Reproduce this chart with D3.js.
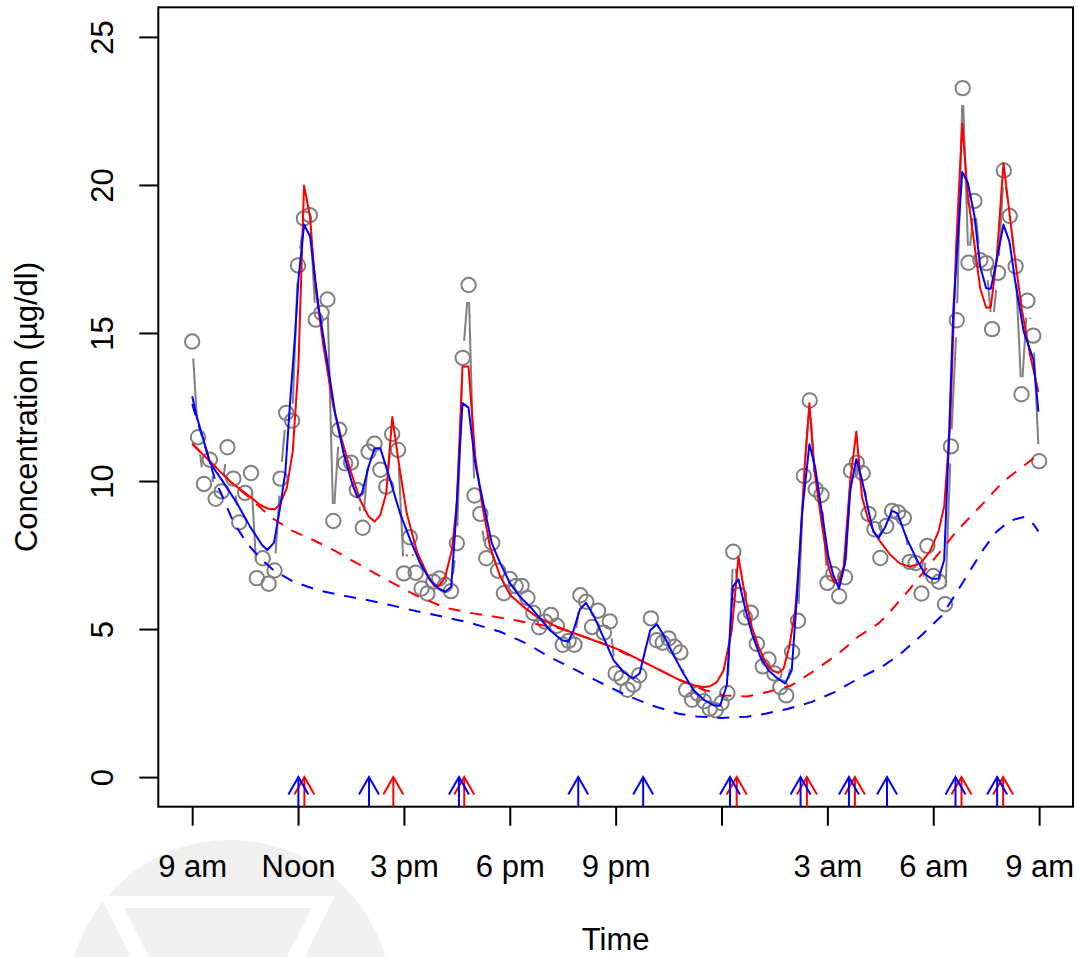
<!DOCTYPE html>
<html><head><meta charset="utf-8">
<script src="https://cdn.jsdelivr.net/npm/d3@7"></script>
<style>
html,body{margin:0;padding:0;background:#fff;}
svg{display:block;}
text{font-family:"Liberation Sans",Arial,Helvetica,sans-serif;fill:#000;}
</style></head>
<body>
<svg id="chart" width="1078" height="957"></svg>
<script>
// ---------- data ----------
const sampleStepHours = 1 / 6;   // observations every 10 minutes, 9 am -> 9 am
const conc = [14.71, 11.48, 9.90, 10.72, 9.40, 9.65, 11.14, 10.08, 8.60, 9.60,
 10.27, 6.72, 7.39, 6.53, 6.98, 10.08, 12.30, 12.04, 17.28, 18.87,
 18.98, 15.45, 15.68, 16.13, 8.65, 11.73, 10.60, 10.62, 9.70, 8.42,
 10.99, 11.26, 10.38, 9.81, 11.59, 11.05, 6.88, 8.10, 6.90, 6.37,
 6.20, 6.60, 6.71, 6.49, 6.28, 7.90, 14.16, 16.62, 9.51, 8.89,
 7.39, 7.91, 6.97, 6.21, 6.69, 6.45, 6.46, 6.05, 5.54, 5.06,
 5.25, 5.48, 5.11, 4.47, 4.60, 4.47, 6.14, 5.92, 5.07, 5.62,
 4.88, 5.26, 3.50, 3.35, 2.95, 3.12, 3.44, null, 5.36, 4.62,
 4.54, 4.68, 4.40, 4.21, 2.95, 2.61, 2.82, 2.56, 2.31, 2.26,
 2.50, 2.84, 7.61, 6.15, 5.39, 5.55, 4.50, 3.74, 3.97, 3.50,
 3.04, 2.76, 4.23, 5.28, 10.17, 12.72, 9.72, 9.53, 6.56, 6.86,
 6.11, 6.75, 10.35, 10.62, 10.26, 8.89, 8.37, 7.40, 8.48, 8.99,
 8.94, 8.75, 7.27, 7.23, 6.20, 7.81, 6.79, 6.60, 5.84, 11.17,
 15.43, 23.27, 17.37, 19.46, 17.46, 17.36, 15.13, 17.03, 20.49, 18.95,
 17.25, 12.93, 16.09, 14.91, 10.67];

// red model fit (hours since 9 am, value)
const redFitT = [0,1.08,1.64,1.93,2.16,2.35,2.49,2.68,2.85,3.01,3.17,3.34,3.49,3.72,4.0,4.24,4.48,4.76,5.0,5.17,5.33,5.5,5.67,5.87,6.08,6.37,6.65,6.86,7.03,7.17,7.36,7.5,7.66,7.83,8.02,8.21,8.44,8.73,9.01,9.39,9.77,10.24,10.71,11.37,12.13,12.79,13.83,14.21,14.49,14.68,14.87,15.06,15.29,15.48,15.67,15.86,16.05,16.24,16.43,16.61,16.76,16.92,17.09,17.23,17.35,17.49,17.63,17.84,18.03,18.17,18.31,18.46,18.65,18.82,18.98,19.16,19.35,19.5,19.78,20.06,20.34,20.63,20.91,21.15,21.31,21.48,21.65,21.82,21.98,22.17,22.33,22.5,22.63,22.8,22.99,23.16,23.32,23.51,23.75,23.98];
const redFitV = [11.26,9.98,9.47,9.19,9.06,9.05,9.23,9.76,11.0,13.87,19.98,18.94,16.58,14.55,12.52,11.39,10.38,9.36,8.80,8.63,8.85,9.59,12.16,10.49,8.91,7.61,6.88,6.45,6.49,6.77,7.67,9.25,13.87,13.87,10.83,9.25,7.78,6.77,6.15,5.75,5.41,5.13,4.91,4.62,4.29,3.89,3.27,3.10,3.04,3.07,3.21,3.61,4.96,7.44,6.09,5.07,4.40,3.89,3.61,3.52,3.67,4.40,5.64,7.78,10.38,12.63,10.38,8.57,7.10,6.60,6.52,7.10,10.04,11.67,9.47,8.68,8.23,7.95,7.51,7.21,7.11,7.21,7.63,8.30,9.14,11.92,17.96,22.07,19.65,17.96,16.51,15.85,15.87,17.54,20.74,19.05,17.48,15.79,14.22,13.01];

// blue model fit
const blueFitT = [0,0.13,0.32,0.51,0.84,1.27,1.64,1.98,2.13,2.32,2.49,2.64,2.78,2.92,3.01,3.17,3.34,3.58,3.82,4.05,4.29,4.53,4.68,4.81,5.0,5.17,5.33,5.61,5.89,6.18,6.46,6.74,6.98,7.17,7.34,7.45,7.66,7.83,8.02,8.25,8.49,8.73,9.01,9.29,9.58,9.86,10.14,10.48,10.66,10.8,10.99,11.16,11.37,11.66,11.94,12.22,12.49,12.68,12.84,12.98,13.17,13.36,13.64,13.92,14.21,14.49,14.77,14.96,15.15,15.32,15.48,15.67,15.86,16.1,16.33,16.57,16.8,16.99,17.13,17.28,17.49,17.65,17.82,18.03,18.17,18.33,18.5,18.65,18.82,18.98,19.16,19.3,19.45,19.64,19.83,19.99,20.25,20.54,20.77,20.96,21.15,21.31,21.43,21.57,21.82,21.98,22.17,22.33,22.5,22.63,22.8,22.99,23.16,23.32,23.56,23.84,23.98];
const blueFitV = [12.86,12.18,11.39,10.6,10.04,9.25,8.46,7.84,7.67,7.92,9.1,10.3,12.74,15.0,16.8,18.66,18.27,15.9,14.1,12.29,10.94,9.93,9.45,9.59,10.49,11.11,11.11,10.04,8.91,8.01,7.22,6.65,6.37,6.26,6.43,8.3,12.63,12.48,10.6,9.25,7.9,7.22,6.54,6.09,5.75,5.36,4.96,4.62,4.58,4.93,5.67,5.89,5.47,4.7,3.95,3.55,3.33,3.5,4.29,4.96,5.16,4.79,4.12,3.5,2.93,2.62,2.43,2.41,3.1,6.43,6.68,5.7,4.85,4.06,3.61,3.35,3.16,3.61,5.98,8.91,11.24,10.49,9.13,7.44,6.82,6.37,7.22,9.7,10.74,10.04,9.02,8.29,8.08,8.45,9.0,8.9,8.05,7.33,6.85,6.7,6.7,7.33,10.95,15.79,20.44,20.08,18.93,17.24,16.51,16.49,17.48,18.66,18.08,16.76,15.06,14.1,12.34];

// baselines (dashed)
const redBaseT = [0,1.08,1.64,2.21,2.78,3.44,4.1,4.85,5.61,6.37,7.17,7.97,8.87,9.63,10.43,11.66,12.79,13.83,14.49,15.08,15.72,16.33,16.99,17.65,18.31,18.87,19.45,19.73,20.34,21.0,21.66,22.33,22.99,23.65,23.98];
const redBaseV = [11.26,9.98,9.42,8.80,8.35,8.0,7.61,7.10,6.60,6.12,5.72,5.53,5.36,5.19,5.02,4.51,3.89,3.27,2.95,2.76,2.72,2.88,3.10,3.61,4.17,4.74,5.19,5.52,6.36,7.33,8.30,9.14,9.99,10.59,10.90];
const blueBaseT = [0,0.31,0.65,0.94,1.16,1.55,1.93,2.3,2.87,3.54,4.2,4.95,5.61,6.37,7.02,7.84,8.73,9.48,10.12,10.88,11.54,12.27,13.0,13.78,14.29,15.0,15.72,16.24,16.89,17.56,18.22,18.88,19.54,20.06,20.63,21.25,21.67,22.04,22.42,22.8,23.18,23.55,23.84,23.98];
const blueBaseV = [12.6,11.4,10.04,9.25,8.63,7.90,7.39,6.99,6.60,6.32,6.15,5.98,5.81,5.60,5.44,5.22,4.91,4.51,4.06,3.61,3.21,2.78,2.43,2.14,2.05,2.00,2.04,2.14,2.31,2.54,2.88,3.33,3.72,4.15,4.75,5.46,6.25,6.97,7.69,8.30,8.66,8.78,8.54,8.30];

// estimated pulse times (hours since 9 am)
const bluePulses = [3.01,5.01,7.56,10.94,12.78,15.24,17.24,18.61,19.69,21.63,22.81];
const redPulses = [3.18,5.70,7.71,15.43,17.42,18.78,21.80,22.98];

// axes
const xTicks = [0,3,6,9,12,15,18,21,24];
const xTickLabels = ["9 am","Noon","3 pm","6 pm","9 pm","","3 am","6 am","9 am"];
const yTicks = [0,5,10,15,20,25];

// ---------- drawing ----------
const svg = d3.select("#chart");
const frame = {left:158.3, right:1073, top:7.3, bottom:806.7};
const x = d3.scaleLinear().domain([-0.96, 24.96]).range([frame.left, frame.right]);
const y = d3.scaleLinear().domain([-1, 26]).range([frame.bottom, frame.top]);

// faint watermark (background)
const wm = svg.append("g");
wm.append("circle").attr("cx",230).attr("cy",1002).attr("r",162).attr("fill","#f0f0f0");
wm.append("path").attr("d","M100,896 L335,896 L218,1130 Z").attr("fill","#ffffff");
wm.append("path").attr("d","M124,908 L312,908 L218,1090 Z").attr("fill","#f0f0f0");

const FS = 31;

// x axis
const xAxis = d3.axisBottom(x).tickValues(xTicks)
  .tickFormat((d,i) => xTickLabels[i]).tickSizeInner(19).tickSizeOuter(0).tickPadding(29);
const gx = svg.append("g").attr("transform",`translate(0,${frame.bottom})`).call(xAxis);
gx.select(".domain").remove();
gx.selectAll("line").attr("stroke","#000").attr("stroke-width",2);
gx.selectAll("text").attr("font-size",FS).attr("font-family",null).attr("fill","#000");

// y axis
const yAxis = d3.axisLeft(y).tickValues(yTicks).tickSizeInner(19).tickSizeOuter(0);
const gy = svg.append("g").attr("transform",`translate(${frame.left},0)`).call(yAxis);
gy.select(".domain").remove();
gy.selectAll("line").attr("stroke","#000").attr("stroke-width",2);
gy.selectAll("text").attr("font-size",FS).attr("font-family",null).attr("fill","#000")
  .attr("x",0).attr("dy",null).attr("text-anchor","middle")
  .attr("transform","translate(-45,0) rotate(-90)");

// frame
svg.append("rect").attr("x",frame.left).attr("y",frame.top)
  .attr("width",frame.right-frame.left).attr("height",frame.bottom-frame.top)
  .attr("fill","none").attr("stroke","#000").attr("stroke-width",2);

// titles
svg.append("text").attr("x",(frame.left+frame.right)/2).attr("y",950)
  .attr("text-anchor","middle").attr("font-size",FS).text("Time");
svg.append("text").attr("transform",`translate(37,${(frame.top+frame.bottom)/2}) rotate(-90)`)
  .attr("text-anchor","middle").attr("font-size",FS).text("Concentration (\u00b5g/dl)");

const plot = svg.append("g");
const gray = "#808080";

// observed: type "b" line (segments with gaps around points)
const obs = conc.map((v,i) => ({t:i*sampleStepHours, v}));
const gap = 17;
for (let i=0;i<obs.length-1;i++){
  const a = obs[i], b = obs[i+1];
  if (a.v==null || b.v==null) continue;
  const x1=x(a.t), y1=y(a.v), x2=x(b.t), y2=y(b.v);
  const L = Math.hypot(x2-x1,y2-y1);
  if (L <= 2*gap) continue;
  const ux=(x2-x1)/L, uy=(y2-y1)/L;
  plot.append("line").attr("x1",x1+ux*gap).attr("y1",y1+uy*gap)
    .attr("x2",x2-ux*gap).attr("y2",y2-uy*gap)
    .attr("stroke",gray).attr("stroke-width",2);
}
plot.selectAll("circle.obs").data(obs.filter(d=>d.v!=null)).join("circle")
  .attr("class","obs").attr("cx",d=>x(d.t)).attr("cy",d=>y(d.v)).attr("r",7.2)
  .attr("fill","none").attr("stroke",gray).attr("stroke-width",2);

const line = d3.line().x(d=>x(d[0])).y(d=>y(d[1]));
const zip = (T,V) => T.map((t,i)=>[t,V[i]]);

plot.append("path").attr("d",line(zip(redBaseT,redBaseV))).attr("fill","none")
  .attr("stroke","#ff0000").attr("stroke-width",2).attr("stroke-dasharray","12,10");
plot.append("path").attr("d",line(zip(blueBaseT,blueBaseV))).attr("fill","none")
  .attr("stroke","#0000ff").attr("stroke-width",2).attr("stroke-dasharray","12,10");
plot.append("path").attr("d",line(zip(redFitT,redFitV))).attr("fill","none")
  .attr("stroke","#ff0000").attr("stroke-width",2).attr("stroke-linejoin","round");
plot.append("path").attr("d",line(zip(blueFitT,blueFitV))).attr("fill","none")
  .attr("stroke","#0000ff").attr("stroke-width",2).attr("stroke-linejoin","round");

// pulse arrows
function arrows(times,color){
  const g = plot.append("g").attr("stroke",color).attr("stroke-width",2).attr("fill","none");
  const hl = 20, ang = Math.PI/6;
  times.forEach(t=>{
    const xx = x(t), yb = y(-1), yt = y(0);
    g.append("line").attr("x1",xx).attr("y1",yb).attr("x2",xx).attr("y2",yt);
    g.append("path").attr("d",`M${xx-hl*Math.sin(ang)},${yt+hl*Math.cos(ang)} L${xx},${yt} L${xx+hl*Math.sin(ang)},${yt+hl*Math.cos(ang)}`);
  });
}
arrows(redPulses,"#ff0000");
arrows(bluePulses,"#0000ff");
</script>
</body></html>
